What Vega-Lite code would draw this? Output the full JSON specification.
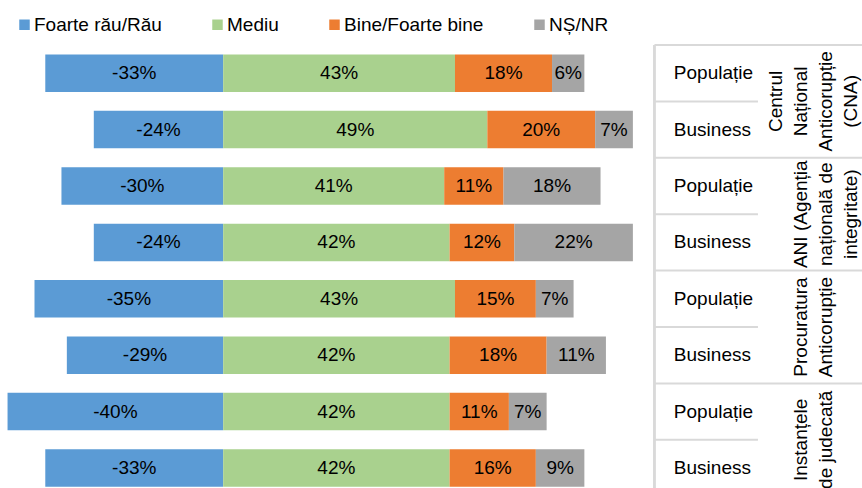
{
  "$schema": "https://vega.github.io/schema/vega-lite/v6.json",
  "width": 862,
  "height": 443,
  "autosize": {"type": "none"},
  "padding": {"left": 0, "top": 45, "right": 0, "bottom": 0},
  "background": "white",
  "config": {
    "view": {"stroke": null},
    "font": "Liberation Sans",
    "locale": {"number": {"decimal": ".", "thousands": ",", "grouping": [3], "currency": ["$", ""], "minus": "-"}}
  },
  "datasets": {
    "bars": [
      {"id": 1, "cat": "Foarte rău/Rău", "o": 1, "v": -0.33},
      {"id": 1, "cat": "Mediu", "o": 2, "v": 0.43},
      {"id": 1, "cat": "Bine/Foarte bine", "o": 3, "v": 0.18},
      {"id": 1, "cat": "NȘ/NR", "o": 4, "v": 0.06},
      {"id": 2, "cat": "Foarte rău/Rău", "o": 1, "v": -0.24},
      {"id": 2, "cat": "Mediu", "o": 2, "v": 0.49},
      {"id": 2, "cat": "Bine/Foarte bine", "o": 3, "v": 0.20},
      {"id": 2, "cat": "NȘ/NR", "o": 4, "v": 0.07},
      {"id": 3, "cat": "Foarte rău/Rău", "o": 1, "v": -0.30},
      {"id": 3, "cat": "Mediu", "o": 2, "v": 0.41},
      {"id": 3, "cat": "Bine/Foarte bine", "o": 3, "v": 0.11},
      {"id": 3, "cat": "NȘ/NR", "o": 4, "v": 0.18},
      {"id": 4, "cat": "Foarte rău/Rău", "o": 1, "v": -0.24},
      {"id": 4, "cat": "Mediu", "o": 2, "v": 0.42},
      {"id": 4, "cat": "Bine/Foarte bine", "o": 3, "v": 0.12},
      {"id": 4, "cat": "NȘ/NR", "o": 4, "v": 0.22},
      {"id": 5, "cat": "Foarte rău/Rău", "o": 1, "v": -0.35},
      {"id": 5, "cat": "Mediu", "o": 2, "v": 0.43},
      {"id": 5, "cat": "Bine/Foarte bine", "o": 3, "v": 0.15},
      {"id": 5, "cat": "NȘ/NR", "o": 4, "v": 0.07},
      {"id": 6, "cat": "Foarte rău/Rău", "o": 1, "v": -0.29},
      {"id": 6, "cat": "Mediu", "o": 2, "v": 0.42},
      {"id": 6, "cat": "Bine/Foarte bine", "o": 3, "v": 0.18},
      {"id": 6, "cat": "NȘ/NR", "o": 4, "v": 0.11},
      {"id": 7, "cat": "Foarte rău/Rău", "o": 1, "v": -0.40},
      {"id": 7, "cat": "Mediu", "o": 2, "v": 0.42},
      {"id": 7, "cat": "Bine/Foarte bine", "o": 3, "v": 0.11},
      {"id": 7, "cat": "NȘ/NR", "o": 4, "v": 0.07},
      {"id": 8, "cat": "Foarte rău/Rău", "o": 1, "v": -0.33},
      {"id": 8, "cat": "Mediu", "o": 2, "v": 0.42},
      {"id": 8, "cat": "Bine/Foarte bine", "o": 3, "v": 0.16},
      {"id": 8, "cat": "NȘ/NR", "o": 4, "v": 0.09}
    ],
    "rows": [
      {"id": 1, "seg": "Populație"},
      {"id": 2, "seg": "Business"},
      {"id": 3, "seg": "Populație"},
      {"id": 4, "seg": "Business"},
      {"id": 5, "seg": "Populație"},
      {"id": 6, "seg": "Business"},
      {"id": 7, "seg": "Populație"},
      {"id": 8, "seg": "Business"}
    ],
    "groups": [
      {"id": 1, "g": "Centrul\nNațional\nAnticorupție\n(CNA)"},
      {"id": 3, "g": "\nANI (Agenția\nnațională de\nintegritate)"},
      {"id": 5, "g": "\n\nProcuratura\nAnticorupție"},
      {"id": 7, "g": "\n\nInstanțele\nde judecată"}
    ]
  },
  "layer": [
    {
      "data": {"name": "groups"},
      "mark": {"type": "rule", "color": "#d9d9d9", "strokeWidth": 2},
      "encoding": {
        "x": {"datum": 0.8, "type": "quantitative", "scale": {"domain": [-0.414, 1.185], "nice": false, "zero": false}, "axis": null}
      }
    },
    {
      "data": {"name": "groups"},
      "mark": {"type": "rule", "color": "#d9d9d9", "strokeWidth": 2},
      "encoding": {
        "y": {"field": "id", "type": "ordinal", "bandPosition": 0, "scale": {"domain": [1, 2, 3, 4, 5, 6, 7, 8], "range": [0, 451.2], "paddingInner": 0, "paddingOuter": 0}, "axis": null},
        "x": {"datum": 0.8, "type": "quantitative"},
        "x2": {"datum": 1.185}
      }
    },
    {
      "data": {"name": "rows"},
      "transform": [{"filter": "datum.seg === 'Business'"}],
      "mark": {"type": "rule", "color": "#d9d9d9", "strokeWidth": 2},
      "encoding": {
        "y": {"field": "id", "type": "ordinal", "bandPosition": 0},
        "x": {"datum": 0.8, "type": "quantitative"},
        "x2": {"datum": 0.992}
      }
    },
    {
      "data": {"name": "bars"},
      "mark": {"type": "bar", "height": {"band": 0.665}},
      "encoding": {
        "y": {"field": "id", "type": "ordinal"},
        "x": {"field": "v", "type": "quantitative", "stack": "zero"},
        "order": {"field": "o", "type": "quantitative"},
        "color": {
          "field": "cat", "type": "nominal",
          "scale": {"domain": ["Foarte rău/Rău", "Mediu", "Bine/Foarte bine", "NȘ/NR"], "range": ["#5B9BD5", "#A9D18E", "#ED7D31", "#A5A5A5"]},
          "legend": {
            "title": null, "orient": "none", "legendX": 15, "legendY": -30, "direction": "horizontal",
            "symbolType": "square", "symbolSize": 110, "symbolStrokeWidth": 0, "labelFontSize": 19,
            "labelOffset": 0, "columnPadding": 46, "labelColor": "#000000", "padding": 0, "labelFont": "Liberation Sans"
          }
        }
      }
    },
    {
      "data": {"name": "bars"},
      "mark": {"type": "text", "fontSize": 19, "color": "#000000"},
      "encoding": {
        "y": {"field": "id", "type": "ordinal"},
        "x": {"field": "v", "type": "quantitative", "stack": "zero", "bandPosition": 0.5},
        "order": {"field": "o", "type": "quantitative"},
        "text": {"field": "v", "type": "quantitative", "format": ".0%"}
      }
    },
    {
      "data": {"name": "rows"},
      "mark": {"type": "text", "fontSize": 19, "align": "left", "color": "#000000"},
      "encoding": {
        "y": {"field": "id", "type": "ordinal"},
        "x": {"datum": 0.836, "type": "quantitative"},
        "text": {"field": "seg"}
      }
    },
    {
      "data": {"name": "groups"},
      "mark": {"type": "text", "fontSize": 19, "angle": 270, "align": "center", "baseline": "alphabetic", "lineBreak": "\n", "lineHeight": 25, "color": "#000000"},
      "encoding": {
        "y": {"field": "id", "type": "ordinal", "bandPosition": 1},
        "x": {"datum": 1.0366, "type": "quantitative"},
        "text": {"field": "g"}
      }
    }
  ]
}
